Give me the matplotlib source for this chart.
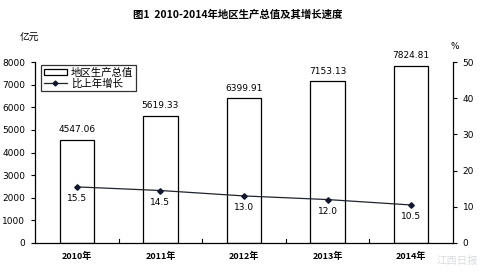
import matplotlib
matplotlib.use("Agg")
import matplotlib.pyplot as plt
from matplotlib.lines import Line2D
from matplotlib.patches import Patch

plt.rcParams['font.family'] = ['Noto Sans CJK SC', 'DejaVu Sans']

categories = ['2010年', '2011年', '2012年', '2013年', '2014年']
gdp = [4547.06, 5619.33, 6399.91, 7153.13, 7824.81]
growth = [15.5, 14.5, 13.0, 12.0, 10.5]
gdp_labels = ['4547.06', '5619.33', '6399.91', '7153.13', '7824.81']
growth_labels = ['15.5', '14.5', '13.0', '12.0', '10.5']
left_ticks = [0, 1000, 2000, 3000, 4000, 5000, 6000, 7000, 8000]
right_ticks = [0, 10, 20, 30, 40, 50]

fig = plt.figure(figsize=(4.8, 2.73), dpi=100)
ax = fig.add_axes([35/480, 30/273, 418/480, 181/273])
x = list(range(len(categories)))
ax.bar(x, gdp, width=0.41, facecolor='white', edgecolor='black', linewidth=0.9, zorder=2)
ax.set_xlim(-0.5, 4.5)
ax.set_ylim(0, 8000)
ax.set_yticks(left_ticks)
ax.set_yticklabels([str(t) for t in left_ticks], fontsize=6.5, family='DejaVu Sans')
ax.set_xticks(x)
ax.set_xticklabels(categories, fontsize=6.5, fontweight='bold')
ax.tick_params(axis='x', length=0, pad=6)
ax.tick_params(axis='y', length=3, width=0.8, direction='out', pad=4)
for b in [0.5, 1.5, 2.5, 3.5]:
    ax.plot([b, b], [0, 180], color='black', lw=0.8, zorder=3)
ax.spines['top'].set_visible(False)
ax.spines['right'].set_visible(False)
for s in ['left', 'bottom']:
    ax.spines[s].set_linewidth(0.9)
for xi, v, lab in zip(x, gdp, gdp_labels):
    ax.text(xi, v + 250, lab, ha='center', va='bottom', fontsize=6.5, family='DejaVu Sans')

ax2 = ax.twinx()
ax2.set_ylim(0, 50)
ax2.set_yticks(right_ticks)
ax2.set_yticklabels([str(t) for t in right_ticks], fontsize=6.5, family='DejaVu Sans')
ax2.tick_params(axis='y', length=3, width=0.8, direction='out', pad=4)
for s in ['top', 'left', 'bottom']:
    ax2.spines[s].set_visible(False)
ax2.spines['right'].set_linewidth(0.9)
ax2.plot(x, growth, color='#1f2430', lw=0.9, marker='D', markersize=2.8,
         markerfacecolor='#101830', markeredgecolor='#101830', zorder=4)
for xi, v, lab in zip(x, growth, growth_labels):
    ax2.text(xi, v - 2.0, lab, ha='center', va='top', fontsize=6.5, family='DejaVu Sans')

handles = [Patch(facecolor='white', edgecolor='black', linewidth=0.9),
           Line2D([0], [0], color='#1f2430', lw=0.9, marker='D', markersize=2.5,
                  markerfacecolor='#101830', markeredgecolor='#101830')]
leg = ax.legend(handles, ['地区生产总值', '比上年增长'], loc='upper left',
                bbox_to_anchor=(0.01, 0.995), fontsize=7.5, frameon=True, fancybox=False,
                handlelength=2.2, handleheight=0.6, borderpad=0.25, labelspacing=0.05,
                handletextpad=0.4, borderaxespad=0.2)
leg.get_frame().set_edgecolor('black')
leg.get_frame().set_linewidth(0.9)

fig.text(238/480, 1 - 15/273, '图1  2010-2014年地区生产总值及其增长速度', ha='center', va='center',
         fontsize=7.5, fontweight='bold')
fig.text(20/480, 1 - 38/273, '亿元', ha='left', va='center', fontsize=7)
fig.text(455/480, 1 - 46/273, '%', ha='center', va='center', fontsize=6.5, family='DejaVu Sans')
fig.text(457/480, 1 - 261/273, '江西日报', ha='center', va='center', fontsize=7.5,
         color='#d0d4da', alpha=0.8)

fig.savefig('out.png', dpi=100)
